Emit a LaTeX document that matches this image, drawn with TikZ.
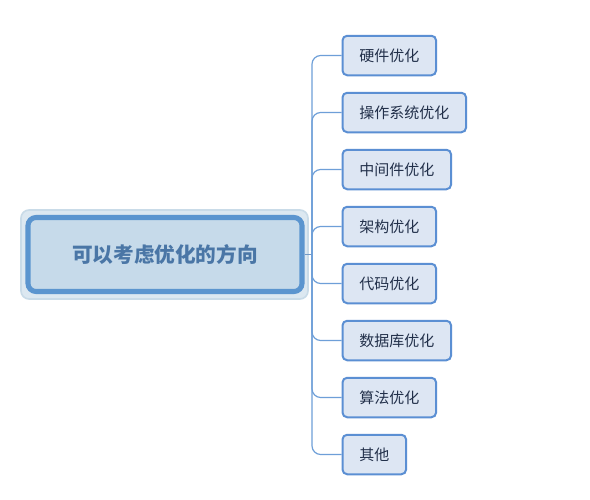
\documentclass[tikz,border=0pt]{standalone}
\usepackage{fontspec}
\newfontfamily\cjk{Noto Sans CJK SC}
\definecolor{hubfill}{HTML}{C6DAEA}
\definecolor{hubborder}{HTML}{5B95CF}
\definecolor{hubtext}{HTML}{4A76A6}
\definecolor{halofill}{HTML}{DCE8F1}
\definecolor{haloborder}{HTML}{C9DBE8}
\definecolor{kidfill}{HTML}{DDE6F3}
\definecolor{kidborder}{HTML}{5B8FD3}
\definecolor{kidtext}{HTML}{22304A}
\definecolor{linkcol}{HTML}{6E9FD8}
\begin{document}
\begin{tikzpicture}[x=0.75pt,y=-0.75pt,
  halo/.style={draw=haloborder,fill=halofill,line width=1.2pt,rounded corners=6pt,minimum width=287*0.75pt,minimum height=89*0.75pt,inner sep=0pt},
  hub/.style={draw=hubborder,fill=hubfill,line width=3.8pt,rounded corners=6pt,minimum width=274*0.75pt,minimum height=74*0.75pt,inner sep=0pt,font=\cjk\bfseries\fontsize{15.5pt}{18pt}\selectfont,text=hubtext},
  kid/.style={draw=kidborder,fill=kidfill,line width=1.5pt,rounded corners=3.5pt,minimum height=39.5*0.75pt,inner ysep=0pt,inner xsep=12.6pt,anchor=west,font=\cjk\fontsize{11.25pt}{13pt}\selectfont,text=kidtext},
  link/.style={draw=linkcol,line width=0.9pt,rounded corners=6.5pt}]
\useasboundingbox[fill=white] (0,0) rectangle (590,500);
\node[halo] (halo) at (164.5,254.5) {};
\node[hub] (c) at (165,254.5) {可以考虑优化的方向};
\coordinate (hubpt) at (312,254.5);
\node[kid] (k1) at (341.5,55.5) {硬件优化};
\node[kid] (k2) at (341.5,112.5) {操作系统优化};
\node[kid] (k3) at (341.5,169.5) {中间件优化};
\node[kid] (k4) at (341.5,226.5) {架构优化};
\node[kid] (k5) at (341.5,283.5) {代码优化};
\node[kid] (k6) at (341.5,340.5) {数据库优化};
\node[kid] (k7) at (341.5,397.5) {算法优化};
\node[kid] (k8) at (341.5,454.5) {其他};
\begin{scope}[on background layer/.style={}]
\draw[draw=linkcol!80!gray,line width=0.7pt] (c.east) -- (hubpt);
\foreach \k in {k1,k2,k3,k4,k5,k6,k7,k8}{
  \draw[link] (hubpt) |- (\k.west);
}
\end{scope}
\end{tikzpicture}
\end{document}
